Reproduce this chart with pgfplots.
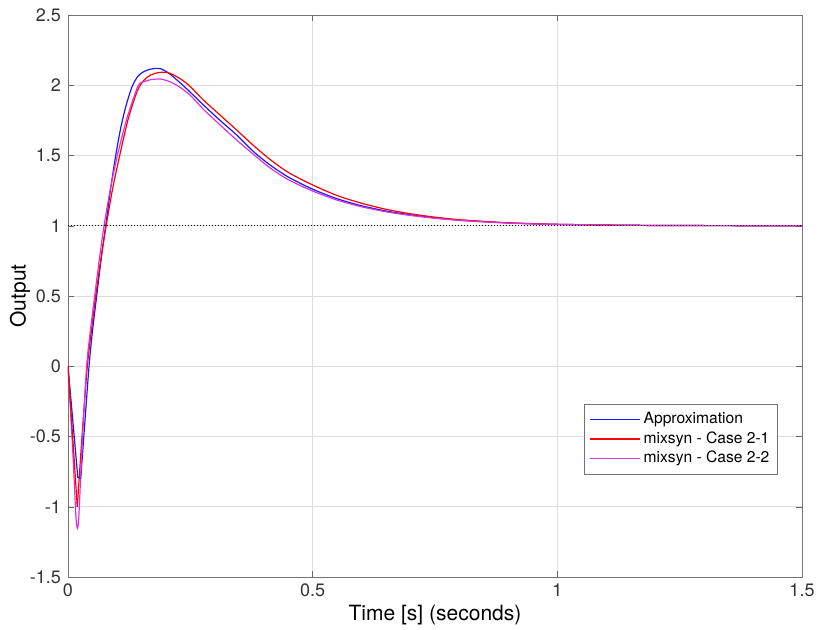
\documentclass[border=0pt]{standalone}
\usepackage{pgfplots}
\pgfplotsset{compat=1.18}
\usepackage{fontspec}
\setmainfont{TeX Gyre Heros}
\definecolor{mmag}{rgb}{0.85,0.2,0.85}
\definecolor{mblue}{rgb}{0.1,0.1,1}
\definecolor{mred}{rgb}{1,0,0}
\begin{document}
\begin{tikzpicture}
\begin{axis}[
  scale only axis, width=367pt, height=281pt,
  xmin=0, xmax=1.5, ymin=-1.5, ymax=2.5,
  xtick={0,0.5,1,1.5}, ytick={-1.5,-1,-0.5,0,0.5,1,1.5,2,2.5},
  /pgf/number format/assume math mode=true,
  ticklabel style={font=\fontsize{9}{10}\selectfont, text=black!80},
  xticklabel style={/pgf/number format/fixed},
  yticklabel style={/pgf/number format/fixed},
  tick align=inside, major tick length=3pt,
  tick style={black!60},
  axis line style={black!55},
  grid=major, major grid style={black!13, line width=0.4pt},
  xlabel={Time [s] (seconds)}, ylabel={Output},
  label style={font=\fontsize{10.5}{12}\selectfont},
  xlabel style={yshift=3pt},
  ylabel style={yshift=-7pt},
  legend style={at={(0.967,0.308)}, anchor=north east, draw=black!55, fill=white,
    font=\fontsize{7.8}{9}\selectfont, row sep=-0.5pt, inner sep=2.5pt,
    nodes={inner sep=1.5pt}},
  legend cell align=left,
  legend image code/.code={\draw[#1] (0cm,0cm) -- (0.88cm,0cm);},
]
\addlegendimage{mblue, line width=0.55pt}
\addlegendentry{Approximation}
\addlegendimage{mred, line width=0.55pt}
\addlegendentry{mixsyn - Case 2-1}
\addlegendimage{mmag, line width=0.55pt}
\addlegendentry{mixsyn - Case 2-2}
% Approximation
\addplot[mblue, line width=0.6pt, smooth, tension=0.45, forget plot] coordinates {
(0.026,-0.80) (0.034,-0.42) (0.043,0.00) (0.050,0.25)
(0.0586,0.50) (0.068,0.77) (0.077,1.00) (0.087,1.26) (0.0975,1.50)
(0.108,1.70) (0.119,1.86) (0.131,1.99) (0.143,2.065) (0.155,2.097)
(0.168,2.114) (0.18,2.12) (0.19,2.117) (0.2,2.099) (0.21,2.075) (0.23,2.015)
(0.25,1.95) (0.2766,1.86) (0.31,1.752) (0.3447,1.646) (0.38,1.525)
(0.4128,1.433) (0.45,1.347) (0.5,1.260) (0.55,1.192) (0.6,1.142) (0.65,1.105)
(0.7,1.077) (0.75,1.056) (0.8,1.040) (0.85,1.029) (0.9,1.020) (0.95,1.014)
(1.0,1.010) (1.1,1.005) (1.2,1.002) (1.3,1.001) (1.4,1.0004) (1.5,1.0)
};
% Case 2-1
\addplot[mred, line width=0.6pt, smooth, tension=0.45, forget plot] coordinates {
(0.019,-1.00) (0.029,-0.48) (0.0395,0.00) (0.048,0.26) (0.0566,0.50)
(0.067,0.76) (0.078,1.00) (0.091,1.26) (0.1056,1.50) (0.123,1.76)
(0.1417,1.96) (0.155,2.035) (0.17,2.075) (0.185,2.09) (0.196,2.092)
(0.2085,2.085) (0.23,2.045) (0.25,1.99) (0.2766,1.895) (0.31,1.79)
(0.3447,1.681) (0.38,1.568) (0.4128,1.472) (0.45,1.38) (0.5,1.29)
(0.55,1.215) (0.6,1.16) (0.65,1.117) (0.7,1.085) (0.75,1.061) (0.8,1.043)
(0.85,1.031) (0.9,1.021) (0.95,1.015) (1.0,1.010) (1.1,1.005) (1.2,1.002)
(1.3,1.001) (1.5,1.0)
};
% Case 2-2
\addplot[mmag, line width=0.6pt, smooth, tension=0.4, forget plot] coordinates {
(0,0) (0.010,-0.62) (0.016,-1.06) (0.019,-1.153) (0.022,-1.08) (0.029,-0.55)
(0.038,0.00) (0.046,0.26) (0.0545,0.50) (0.064,0.76) (0.0736,1.00)
(0.087,1.27) (0.1008,1.50) (0.12,1.76) (0.143,1.995) (0.155,2.025)
(0.17,2.04) (0.189,2.044) (0.2085,2.025) (0.23,1.983) (0.25,1.928)
(0.2766,1.829) (0.31,1.72) (0.3447,1.61) (0.38,1.505) (0.4128,1.412)
(0.45,1.328) (0.5,1.247) (0.55,1.182) (0.6,1.135) (0.65,1.099) (0.7,1.073)
(0.75,1.053) (0.8,1.038) (0.85,1.027) (0.9,1.019) (0.95,1.013) (1.0,1.009)
(1.1,1.005) (1.2,1.002) (1.3,1.001) (1.5,1.0)
};
% initial straight segments of the first two responses
\addplot[mblue, line width=0.6pt, forget plot] coordinates {(0,0) (0.020,-0.79) (0.026,-0.80)};
\addplot[mred, line width=0.6pt, forget plot] coordinates {(0,0) (0.019,-1.00)};
% reference level
\addplot[black, densely dotted, line width=0.5pt, forget plot] coordinates {(0,1) (1.5,1)};
\coordinate (ll) at (rel axis cs:0,0);
\coordinate (ur) at (rel axis cs:1,1);
\end{axis}
\pgfresetboundingbox
\path[use as bounding box] ([shift={(-34pt,-26.5pt)}]ll) rectangle ([shift={(8pt,7.5pt)}]ur);
\end{tikzpicture}
\end{document}
